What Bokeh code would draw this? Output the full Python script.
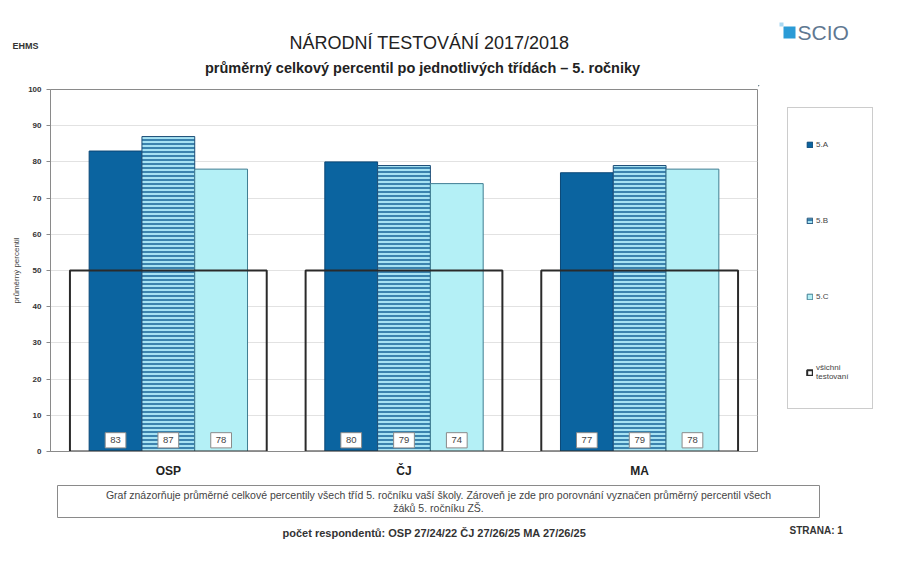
from bokeh.plotting import figure
from bokeh.models import (ColumnDataSource, FactorRange, Range1d, Legend, LegendItem,
                          FixedTicker)
from bokeh.transform import dodge
from bokeh.layouts import column, row
from bokeh.core.properties import value
from bokeh.embed import file_html
from bokeh.resources import INLINE

# ---------------- data ----------------
categories = ["OSP", "ČJ", "MA"]
class_5A = [83, 80, 77]
class_5B = [87, 79, 79]
class_5C = [78, 74, 78]
all_tested = [50, 50, 50]
y_ticks = [0, 10, 20, 30, 40, 50, 60, 70, 80, 90, 100]
series_names = ["5.A", "5.B", "5.C", "všichni\ntestovaní"]

title_text = "NÁRODNÍ TESTOVÁNÍ 2017/2018"
subtitle_text = "průměrný celkový percentil po jednotlivých třídách – 5. ročniky"
note_line1 = ("Graf znázorňuje průměrné celkové percentily všech tříd 5. ročníku vaší školy. "
              "Zároveň je zde pro porovnání vyznačen průměrný percentil všech")
note_line2 = "žáků 5. ročníku ZŠ."
respondents_text = "počet respondentů: OSP 27/24/22  ČJ 27/26/25  MA 27/26/25"
page_text = "STRANA: 1"
header_left_text = "EHMS"
logo_text = "SCIO"

FONT = "Liberation Sans"
W = 890
HDR_H = 85          # header strip height
MAIN_H = 395        # main chart strip height
FTR_H = 89          # footer strip height
MAIN_W = 758        # chart figure width (frame ends at x=757)

# series styles (shared by bars and legend swatches)
STYLE_A = dict(fill_color="#0b64a0", line_color="#0a4777", line_width=1)
STYLE_B = dict(fill_color="#a6e2f3", line_color="#1f4f78", line_width=1,
               hatch_pattern="horizontal_line", hatch_color="#1f6a9c", hatch_scale=4,
               hatch_weight=1.6)
STYLE_C = dict(fill_color="#b4f0f6", line_color="#3f7d92", line_width=1)
STYLE_ALL = dict(fill_color="white", line_color="#2a2a2a", line_width=2)


def deco_figure(w, h):
    f = figure(width=w, height=h, x_range=Range1d(0, w), y_range=Range1d(h, 0),
               output_backend="svg", toolbar_location=None, min_border=0)
    f.frame_align = False
    f.axis.visible = False
    f.grid.visible = False
    f.outline_line_color = None
    return f


def put_text(f, x, y, txt, size, style="normal", color="#222222", align="left"):
    f.text(x=[x], y=[y], text=[txt], text_font=value(FONT), text_font_size=size,
           text_font_style=style, text_color=color, text_align=align, text_baseline="middle")


# ---------------- header ----------------
hdr = deco_figure(W, HDR_H)
put_text(hdr, 12, 45, header_left_text, "9px", "bold", "#333333")
put_text(hdr, 429, 42, title_text, "18px", "normal", "#222222", "center")
put_text(hdr, 422, 67, subtitle_text, "14.5px", "bold", "#222222", "center")
hdr.quad(left=[783], right=[795], top=[26], bottom=[38], fill_color="#2b9bd6", line_color=None)
hdr.quad(left=[779], right=[783], top=[22], bottom=[26], fill_color="#a9d8f2", line_color=None)
put_text(hdr, 797, 32, logo_text, "21px", "normal", "#5f7891")

# ---------------- main chart ----------------
src = ColumnDataSource(dict(cat=categories, a=class_5A, b=class_5B, c=class_5C, all=all_tested,
                            la=[str(v) for v in class_5A], lb=[str(v) for v in class_5B],
                            lc=[str(v) for v in class_5C],
                            ly=[3.1] * len(categories)))

p = figure(width=MAIN_W, height=MAIN_H, x_range=FactorRange(*categories, range_padding=0),
           y_range=Range1d(0, 100), output_backend="svg", toolbar_location=None,
           min_border_left=50, min_border_right=1, min_border_top=4,
           min_border_bottom=25)
p.frame_align = False
p.outline_line_color = "#8a8a8a"
p.outline_line_width = 1
p.xgrid.visible = False
p.ygrid.grid_line_color = "#e2e2e2"
p.yaxis.ticker = FixedTicker(ticks=y_ticks)
p.yaxis.axis_label = "průměrný percentil"
p.yaxis.axis_label_text_font = FONT
p.yaxis.axis_label_text_font_size = "8px"
p.yaxis.axis_label_text_font_style = "normal"
p.yaxis.axis_label_text_color = "#444444"
p.yaxis.axis_label_standoff = 4
p.yaxis.major_label_text_font = FONT
p.yaxis.major_label_text_font_size = "8px"
p.yaxis.major_label_text_font_style = "bold"
p.yaxis.major_label_text_color = "#333333"
p.yaxis.axis_line_color = "#8a8a8a"
p.yaxis.major_tick_line_color = "#8a8a8a"
p.yaxis.major_tick_out = 4
p.yaxis.major_tick_in = 0
p.yaxis.minor_tick_line_color = None
p.xaxis.major_label_text_font = FONT
p.xaxis.major_label_text_font_size = "12px"
p.xaxis.major_label_text_font_style = "bold"
p.xaxis.major_label_text_color = "#222222"
p.xaxis.major_tick_line_color = None
p.xaxis.axis_line_color = "#8a8a8a"
p.xaxis.major_label_standoff = 6

bw = 0.224
p.vbar(x=dodge("cat", -bw, range=p.x_range), top="a", width=bw, source=src, **STYLE_A)
p.vbar(x=dodge("cat", 0, range=p.x_range), top="b", width=bw, source=src, **STYLE_B)
p.vbar(x=dodge("cat", bw, range=p.x_range), top="c", width=bw, source=src, **STYLE_C)
p.vbar(x="cat", top="all", width=0.835, source=src, fill_color=None,
       line_color=STYLE_ALL["line_color"], line_width=STYLE_ALL["line_width"])

for off, col in [(-bw, "la"), (0, "lb"), (bw, "lc")]:
    p.rect(x=dodge("cat", off, range=p.x_range), y="ly", width=0.088, height=4.2, source=src,
           fill_color="white", line_color="#8a8a8a", line_width=1)
    p.text(x=dodge("cat", off, range=p.x_range), y="ly", text=col, source=src,
           text_font=value(FONT), text_font_size="9.5px", text_color="#444444",
           text_align="center", text_baseline="middle")

# ---------------- legend strip (to the right of the chart frame) ----------------
LEG_W = W - MAIN_W
leg = deco_figure(LEG_W, MAIN_H)
# one point far outside the strip's visible ranges so the swatches have data to draw from
offscreen = ColumnDataSource(dict(x=[-500], top=[-500]))
swatches = [leg.vbar(x="x", top="top", bottom=-400, width=1, source=offscreen, **st)
            for st in (STYLE_A, STYLE_B, STYLE_C, STYLE_ALL)]
leg_h = 18 * 2 + 4 * 36 + 3 * 40
legend = Legend(items=[LegendItem(label=n, renderers=[r], index=0)
                       for n, r in zip(series_names, swatches)],
                location=(787 - MAIN_W, MAIN_H - (109 - HDR_H) - leg_h), margin=0,
                padding=18, spacing=40,
                glyph_width=7, glyph_height=7, label_height=36, label_width=38,
                label_standoff=3, label_text_font=FONT, label_text_font_size="8px",
                label_text_color="#444444",
                border_line_color="#9a9a9a", border_line_width=1,
                background_fill_color="white", background_fill_alpha=1)
leg.add_layout(legend, "center")

# ---------------- footer ----------------
ftr = deco_figure(W, FTR_H)
ftr.quad(left=[57], right=[819], top=[5], bottom=[37], fill_color=None,
         line_color="#8a8a8a", line_width=1)
put_text(ftr, 438, 14, note_line1, "10.5px", "normal", "#444444", "center")
put_text(ftr, 438, 27, note_line2, "10.5px", "normal", "#444444", "center")
put_text(ftr, 437, 52, respondents_text, "11px", "bold", "#333333", "center")
put_text(ftr, 789, 50, page_text, "10px", "bold", "#333333", "left")

layout = column(hdr, row(p, leg, spacing=0), ftr, spacing=0)
open("out.html", "w").write(file_html(layout, INLINE))
